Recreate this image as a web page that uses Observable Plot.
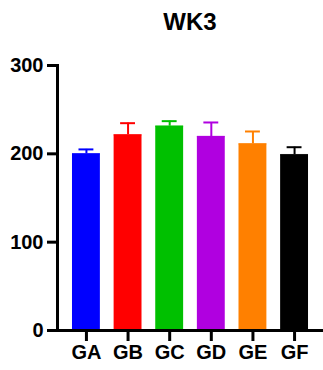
<!DOCTYPE html>
<html><head><meta charset="utf-8">
<script src="https://cdn.jsdelivr.net/npm/d3@7"></script>
<script src="https://cdn.jsdelivr.net/npm/@observablehq/plot@0.6"></script>
<style>
body{margin:0;background:#fff;font-family:"Liberation Sans",Arial,sans-serif;}
#wrap{position:relative;width:323px;height:370px;}
#title{position:absolute;left:57px;width:266px;top:0;height:44px;line-height:44px;text-align:center;font-weight:bold;font-size:24px;}
#chart{position:absolute;left:0;top:44px;}
</style></head>
<body>
<div id="wrap"><div id="title">WK3</div><div id="chart"></div></div>
<script>
const groups = ["GA","GB","GC","GD","GE","GF"];
const means = [200, 221.5, 231.3, 219.6, 211.3, 199];
const errs = [5, 13.2, 5.7, 15.9, 14, 8.5];
const colors = ["#0000ff","#ff0000","#00c000","#b000e0","#ff8000","#000000"];
const yTicks = [0,100,200,300];

const data = groups.map((g,i)=>({g, v:means[i], e:means[i]+errs[i], c:colors[i]}));

const plot = Plot.plot({
  width: 323, height: 326,
  marginLeft: 57, marginRight: 0, marginTop: 21, marginBottom: 40,
  style: {fontFamily: "Liberation Sans, Arial, sans-serif", fontSize: "20px", fontWeight: "bold", color: "#000", background: "#fff"},
  x: {domain: groups, paddingInner: 0.33, paddingOuter: 0.36, round: false, label: null},
  y: {domain: [0,300], label: null},
  color: {domain: groups, range: colors},
  marks: [
    Plot.ruleX(data, {x: "g", y1: "v", y2: "e", stroke: "g", strokeWidth: 2}),
    Plot.tickY(data, {x: "g", y: "e", stroke: "g", strokeWidth: 2, insetLeft: 6.5, insetRight: 6.5}),
    Plot.barY(data, {x: "g", y: "v", fill: "g"}),
    Plot.tickY(data, {x: "g", y: "v", stroke: "g", strokeWidth: 1.5, strokeOpacity: 0.6}),
    Plot.axisY({ticks: yTicks, tickSize: 10, tickPadding: 4, strokeWidth: 3, fontSize: 20, fontWeight: "bold", fill: "#000"}),
    Plot.axisX({tickSize: 11, tickPadding: 3, strokeWidth: 3, fontSize: 20, fontWeight: "bold", fill: "#000"}),
    Plot.frame({anchor: "left", stroke: "#000", strokeWidth: 3}),
    Plot.ruleY([0], {stroke: "#000", strokeWidth: 3})
  ]
});
document.getElementById("chart").appendChild(plot);
</script>
</body></html>
